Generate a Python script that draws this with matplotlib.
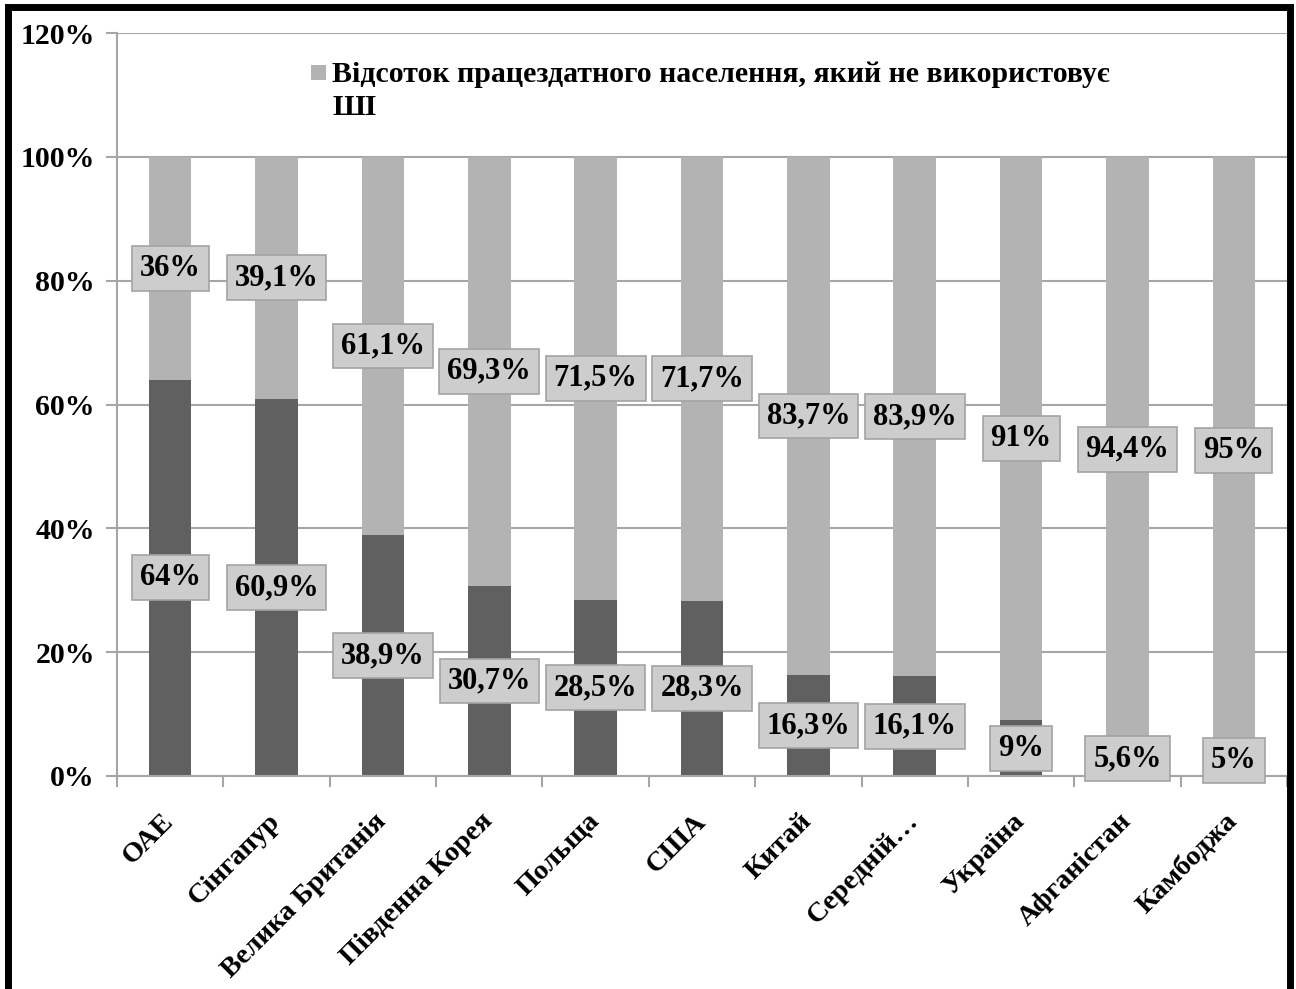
import matplotlib
matplotlib.use("Agg")
import matplotlib.pyplot as plt
from matplotlib.patches import Rectangle
import numpy as np

# Share of the working-age population using / not using AI, by country (%)
countries = ["ОАЕ", "Сінгапур", "Велика Британія", "Південна Корея", "Польща",
             "США", "Китай", "Середній…", "Україна", "Афганістан", "Камбоджа"]
uses_ai = [64, 60.9, 38.9, 30.7, 28.5, 28.3, 16.3, 16.1, 9, 5.6, 5]
not_uses_ai = [36, 39.1, 61.1, 69.3, 71.5, 71.7, 83.7, 83.9, 91, 94.4, 95]
y_ticks = [0, 20, 40, 60, 80, 100, 120]
legend_label = "Відсоток працездатного населення, який не використовує\nШІ"

DARK = "#606060"
LIGHT = "#b3b3b3"
GRID = "#a6a6a6"
FONT = "Liberation Serif"

plt.rcParams["font.family"] = [FONT, "DejaVu Serif"]
plt.rcParams["font.weight"] = "bold"

fig = plt.figure(figsize=(12.96, 9.89), dpi=100)
ax = fig.add_axes([117 / 1296, 1 - 776 / 989, (1287 - 117) / 1296, (776 - 33) / 989])

x = np.arange(len(countries))
width = 0.4
ax.bar(x, uses_ai, width, color=DARK, zorder=2)
ax.bar(x, not_uses_ai, width, bottom=uses_ai, color=LIGHT, zorder=2)


def fmt(v):
    s = f"{v:g}".replace(".", ",")
    return s + "%"


box = dict(boxstyle="square,pad=0.26", fc="#cdcdcd", ec="#a3a3a3", lw=1.2)
for xi, d, l in zip(x, uses_ai, not_uses_ai):
    ax.text(xi, d / 2, fmt(d), ha="center", va="center", fontsize=22,
            fontweight="bold", bbox=box, zorder=4)
    ax.text(xi, d + l / 2, fmt(l), ha="center", va="center", fontsize=22,
            fontweight="bold", bbox=box, zorder=4)

ax.set_xlim(-0.5, len(countries) - 0.5)
ax.set_ylim(0, 120)
ax.set_yticks(y_ticks)
ax.set_yticklabels([f"{t}%" for t in y_ticks], fontsize=21.5, fontweight="bold")
ax.yaxis.grid(True, color=GRID, lw=1.5, zorder=0)
ax.set_axisbelow(True)

# category separators as ticks, names as minor labels
ax.set_xticks(np.arange(len(countries) + 1) - 0.5)
ax.set_xticklabels([])
ax.set_xticks(x, minor=True)
ax.set_xticklabels(countries, minor=True, rotation=45, ha="right", va="center",
                   rotation_mode="anchor", fontsize=20.5, fontweight="bold")
ax.tick_params(axis="x", which="minor", length=0, pad=30)
ax.tick_params(axis="x", which="major", length=8, width=1.5, color=GRID, direction="out")
ax.tick_params(axis="y", length=8, width=1.5, color=GRID, direction="out", pad=8)

for s in ["top", "right"]:
    ax.spines[s].set_visible(False)
for s in ["left", "bottom"]:
    ax.spines[s].set_color(GRID)
    ax.spines[s].set_linewidth(1.5)

# legend entry for the light series
fig.patches.append(Rectangle((311 / 1296, 1 - 80 / 989), 15 / 1296, 15 / 989,
                             transform=fig.transFigure, fc=LIGHT, ec="none"))
fig.text(332 / 1296, 1 - 61 / 989, legend_label, ha="left", va="top",
         fontsize=21.5, fontweight="bold", linespacing=1.3)

# outer black frame
fig.patches.append(Rectangle((8 / 1296, -0.05), (1290 - 8) / 1296, 1.05 - 7 / 989,
                             transform=fig.transFigure, fill=False, ec="black", lw=5))

fig.savefig("out.png", dpi=100)
